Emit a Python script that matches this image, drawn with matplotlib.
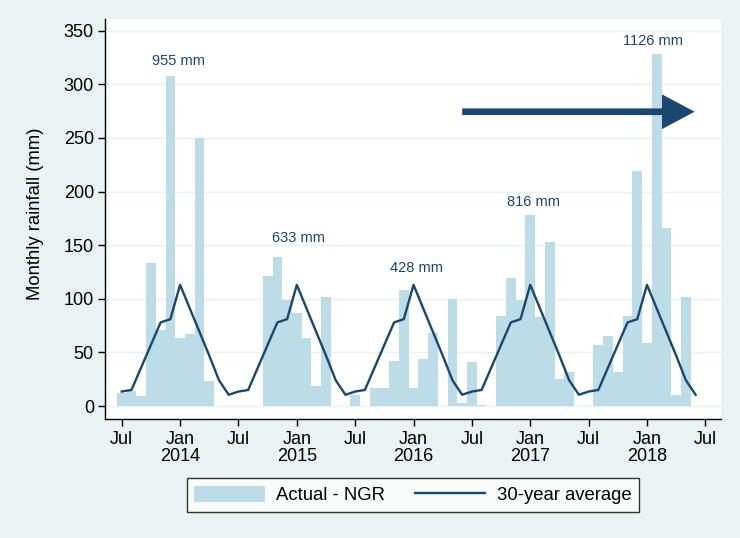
import numpy as np
import matplotlib
matplotlib.use("Agg")
from matplotlib import pyplot as plt

plt.rcParams['font.family'] = ['Liberation Sans', 'DejaVu Sans']

# Monthly rainfall, Jul 2013 .. Jun 2018 (mm)
rain_2013_14 = [12, 14, 9, 133, 71, 308, 63, 67, 250, 23, 0, 0]
rain_2014_15 = [0, 0, 0, 121, 139, 99, 87, 63, 19, 102, 0, 0]
rain_2015_16 = [10, 0, 17, 17, 42, 108, 17, 44, 68, 0, 100, 3]
rain_2016_17 = [41, 1, 0, 84, 119, 99, 178, 83, 153, 25, 32, 0]
rain_2017_18 = [0, 57, 65, 32, 84, 219, 59, 328, 166, 10, 102, 0]

# 30-year average by calendar month, Jul .. Jun
avg_month = [13.5, 15, 36, 57, 78, 81, 113, 91, 69, 47, 24, 10.5]

season_totals = ["955 mm", "633 mm", "428 mm", "816 mm", "1126 mm"]
label_pos = [(5.8, 321.6), (18.2, 157), (30.3, 128.5), (42.3, 190.6), (54.6, 340.5)]

tick_labels = ["Jul", "Jan\n2014", "Jul", "Jan\n2015", "Jul", "Jan\n2016",
               "Jul", "Jan\n2017", "Jul", "Jan\n2018", "Jul"]

actual = rain_2013_14 + rain_2014_15 + rain_2015_16 + rain_2016_17 + rain_2017_18
average = avg_month * 5
months = np.arange(len(actual))

bg = '#eaf2f3'
navy = '#1a476f'
ltblue = '#bcdde8'

fig = plt.figure(figsize=(7.4, 5.38), dpi=100, facecolor=bg)
ax = fig.add_axes([0.1419, 0.2212, 0.8323, 0.7435])
ax.set_facecolor('white')

bars = ax.bar(months, actual, width=1.0, color=ltblue, linewidth=0, label='Actual - NGR')
line, = ax.plot(months, average, color=navy, lw=1.7, label='30-year average')

ax.set_xlim(-1.72, 61.6)
ax.set_ylim(-12.1, 361)
ax.set_yticks(np.arange(0, 351, 50))
ax.set_xticks(np.arange(0, 61, 6))
ax.set_xticklabels(tick_labels, linespacing=1.0)
ax.tick_params(axis='both', labelsize=13, length=5, width=1, direction='out', color='black')
ax.tick_params(axis='x', pad=4)
ax.tick_params(axis='y', pad=3)

ax.grid(axis='y', color=bg, lw=1)
ax.set_axisbelow(True)
for s in ['top', 'right']:
    ax.spines[s].set_visible(False)
for s in ['left', 'bottom']:
    ax.spines[s].set_linewidth(1)
    ax.spines[s].set_color('black')

fig.text(36 / 740, 1 - 213.5 / 538, 'Monthly rainfall (mm)', rotation=90,
         ha='center', va='center', fontsize=13.3)

for txt, (x, y) in zip(season_totals, label_pos):
    ax.text(x, y, txt, color=navy, fontsize=10.5, ha='center', va='center')

ax.annotate('', xy=(58.9, 274.5), xytext=(35.0, 274.5),
            arrowprops=dict(arrowstyle='-|>,head_length=1.6,head_width=0.85',
                            color=navy, lw=4.8, shrinkA=0, shrinkB=0,
                            mutation_scale=10, capstyle='butt', joinstyle='miter'))

leg = fig.legend(handles=[bars, line], loc='center', bbox_to_anchor=(0.558, 0.080),
                 ncol=2, fontsize=13.3, frameon=True, fancybox=False,
                 handlelength=3.8, handleheight=0.98, handletextpad=0.63,
                 columnspacing=1.62, borderpad=0.4, borderaxespad=0)
leg.get_frame().set_edgecolor('black')
leg.get_frame().set_linewidth(1)
leg.get_frame().set_facecolor('white')

fig.savefig('out.png', dpi=100, facecolor=bg)
